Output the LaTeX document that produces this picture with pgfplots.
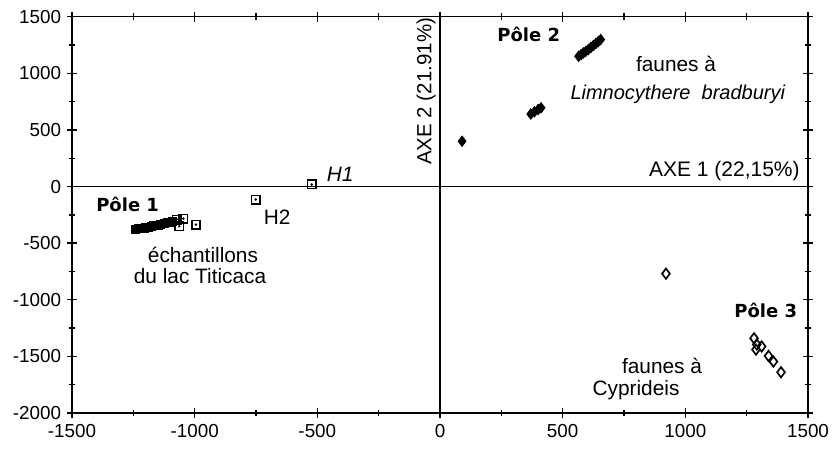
\documentclass[border=0pt]{standalone}
\usepackage{pgfplots}
\pgfplotsset{compat=1.18}
\usepackage{fontspec}
\setmainfont{Liberation Sans}
\newfontfamily\polefont{DejaVu Sans}
\begin{document}
\begin{tikzpicture}
\begin{axis}[name=ax,
  scale only axis, width=441.6pt, height=237.8pt,
  xmin=-1500, xmax=1500, ymin=-2000, ymax=1500,
  xtick={-1500,-1000,...,1500}, ytick={-2000,-1500,...,1500},
  minor tick num=1,
  tick align=center, major tick length=6pt, minor tick length=4pt,
  axis line style={line width=0.9pt}, every tick/.style={black, line width=0.8pt},
  tick label style={font=\fontsize{11.3}{13}\selectfont},
  /pgf/number format/assume math mode=true,
  /pgf/number format/1000 sep={},
  xticklabel style={yshift=-0.5pt},
  clip=false,
]
\draw[line width=0.9pt] (axis cs:-1500,0) -- (axis cs:1500,0);
\draw[line width=0.9pt] (axis cs:0,-2000) -- (axis cs:0,1500);
% Pole 1 filled squares
\addplot[only marks, mark=square*, mark size=2.4pt, black] coordinates {
(-1240,-375) (-1228,-370) (-1215,-365) (-1200,-360) (-1188,-356) (-1175,-352)
(-1162,-346) (-1150,-340) (-1138,-334) (-1125,-326) (-1112,-318) (-1100,-312)
(-1090,-305) (-1205,-368) (-1170,-340)
};
% open squares with dot
\addplot[only marks, mark=square, mark size=2.5pt, black, line width=1pt] coordinates {
(-1073,-292) (-1046,-283) (-1063,-351) (-995,-336) (-751,-115) (-523,18)
};
\addplot[only marks, mark=*, mark size=0.55pt, black] coordinates {
(-1073,-292) (-1046,-283) (-1063,-351) (-995,-336) (-751,-115) (-523,18)
};
% Pole 2 filled diamonds
\addplot[only marks, mark=diamond*, mark size=3.2pt, black] coordinates {
(90,400) (370,640) (385,660) (400,680) (412,695)
(565,1150) (575,1165) (585,1180) (595,1195) (605,1210) (615,1228)
(625,1245) (635,1262) (645,1280) (655,1298)
};
% Pole 3 open diamonds
\addplot[only marks, mark=diamond, mark size=3.1pt, black, line width=1pt] coordinates {
(921,-770) (1280,-1340) (1291,-1395) (1288,-1440) (1311,-1412)
(1339,-1496) (1359,-1546) (1390,-1640)
};
% labels
\node[anchor=west, font=\polefont\bfseries\fontsize{10.8}{12}\selectfont] at (axis cs:-1425,-155) {Pôle 1};
\node[anchor=west, font=\polefont\bfseries\fontsize{10.8}{12}\selectfont] at (axis cs:210,1345) {Pôle 2};
\node[anchor=west, font=\polefont\bfseries\fontsize{10.8}{12}\selectfont] at (axis cs:1176,-1097) {Pôle 3};
\node[font=\fontsize{12.5}{14}\selectfont] at (axis cs:-966,-602) {échantillons};
\node[font=\fontsize{12.5}{14}\selectfont] at (axis cs:-978,-790) {du lac Titicaca};
\node[anchor=west, font=\fontsize{12.5}{14}\selectfont] at (axis cs:-742,-274) {H2};
\node[anchor=west, font=\itshape\fontsize{12.5}{14}\selectfont] at (axis cs:-485,106) {H1};
\node[font=\fontsize{12.5}{14}\selectfont] at (axis cs:962,1080) {faunes à};
\node[anchor=west, font=\itshape\fontsize{12}{14}\selectfont] at (axis cs:508,814) {Limnocythere\ \ bradburyi};
\node[anchor=east, font=\fontsize{12.6}{14}\selectfont] at (axis cs:1490,133) {AXE 1 (22,15\%)};
\node[rotate=90, font=\fontsize{12.3}{14}\selectfont] at (axis cs:-57,840) {AXE 2 (21.91\%)};
\node[font=\fontsize{12.5}{14}\selectfont] at (axis cs:905,-1584) {faunes à};
\node[font=\fontsize{12.5}{14}\selectfont] at (axis cs:799,-1796) {Cyprideis};
\end{axis}
\pgfresetboundingbox
\path ([shift={(-43.2pt,-21pt)}]ax.south west) rectangle ([shift={(15pt,10pt)}]ax.north east);
\end{tikzpicture}
\end{document}
